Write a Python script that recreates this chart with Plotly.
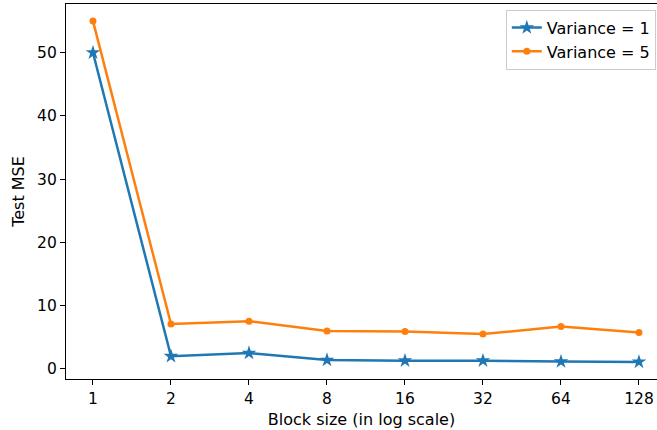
import math
import plotly.graph_objects as go

block_sizes = [1, 2, 4, 8, 16, 32, 64, 128]
tick_labels = ["1", "2", "4", "8", "16", "32", "64", "128"]
mse_var1 = [50.0, 2.0, 2.5, 1.4, 1.3, 1.3, 1.15, 1.1]
mse_var5 = [55.0, 7.1, 7.55, 6.0, 5.9, 5.5, 6.7, 5.75]

fig = go.Figure()
fig.add_trace(go.Scatter(
    x=block_sizes, y=mse_var1, mode="lines+markers", name="Variance = 1",
    line=dict(color="#1f77b4", width=2.5),
    marker=dict(symbol="star", size=11, color="#1f77b4"),
))
fig.add_trace(go.Scatter(
    x=block_sizes, y=mse_var5, mode="lines+markers", name="Variance = 5",
    line=dict(color="#ff7f0e", width=2.5),
    marker=dict(symbol="circle", size=7, color="#ff7f0e"),
))

l2 = math.log10(2)
fig.update_layout(
    width=657, height=430,
    margin=dict(l=66, r=0, t=4, b=51),
    plot_bgcolor="white", paper_bgcolor="white",
    font=dict(family="DejaVu Sans", size=15, color="black"),
    showlegend=True,
    legend=dict(x=0.998, y=0.985, xanchor="right", yanchor="top",
                bgcolor="white", bordercolor="#cccccc", borderwidth=1,
                font=dict(size=16), tracegroupgap=2),
    xaxis=dict(type="log", range=[-0.346 * l2, math.log10(128) + 0.231 * l2],
               tickvals=block_sizes, ticktext=tick_labels,
               showgrid=False, zeroline=False, showline=True, linecolor="black",
               linewidth=1.2, mirror=True, ticks="outside", ticklen=5,
               tickcolor="black", tickfont=dict(size=15.5),
               title=dict(text="Block size (in log scale)", standoff=7,
                          font=dict(size=16))),
    yaxis=dict(range=[-1.6, 57.7], tickvals=[0, 10, 20, 30, 40, 50],
               showgrid=False, zeroline=False, showline=True, linecolor="black",
               linewidth=1.2, mirror=False, ticks="outside", ticklen=5,
               tickcolor="black", tickfont=dict(size=15.5),
               title=dict(text="Test MSE", standoff=8, font=dict(size=16))),
)
fig.write_html("out.html")
